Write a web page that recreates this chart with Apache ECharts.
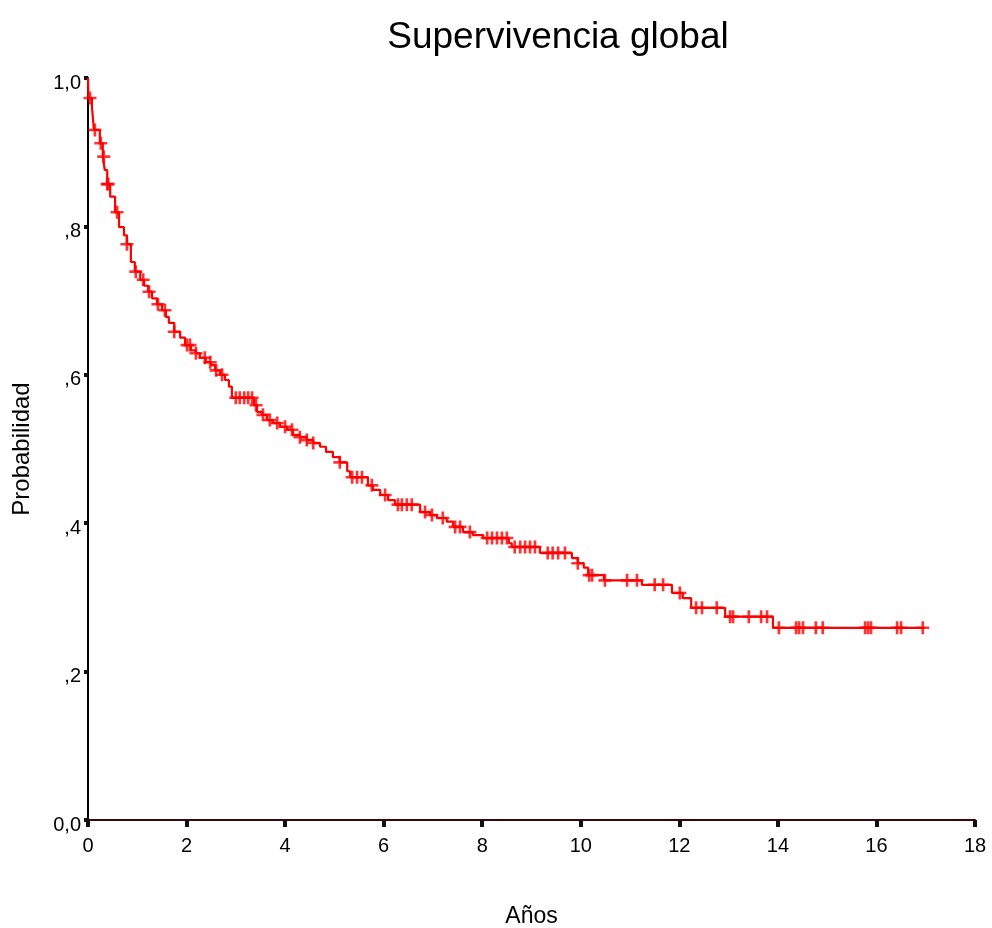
<!DOCTYPE html>
<html>
<head>
<meta charset="utf-8">
<script src="https://cdn.jsdelivr.net/npm/echarts@6/dist/echarts.min.js"></script>
<style>html,body{margin:0;padding:0;background:#fff}#c{width:992px;height:928px}</style>
</head>
<body>
<div id="c"></div>
<script>
// Kaplan-Meier step curve: [time (years), survival after step]
const kmSteps = [
  [0,1.0],[0.01,0.973],[0.08,0.961],[0.12,0.930],[0.24,0.912],[0.30,0.894],[0.34,0.876],
  [0.39,0.857],[0.45,0.840],[0.55,0.819],[0.63,0.799],[0.73,0.788],[0.79,0.776],[0.87,0.752],
  [0.95,0.739],[1.06,0.728],[1.14,0.720],[1.22,0.712],[1.30,0.703],[1.40,0.695],[1.50,0.687],
  [1.58,0.678],[1.64,0.670],[1.75,0.658],[1.87,0.650],[1.97,0.640],[2.09,0.633],[2.19,0.629],
  [2.27,0.623],[2.39,0.617],[2.50,0.613],[2.58,0.606],[2.68,0.600],[2.78,0.593],[2.86,0.584],
  [2.92,0.569],[3.37,0.559],[3.43,0.550],[3.53,0.546],[3.63,0.539],[3.75,0.535],[3.90,0.530],
  [4.04,0.526],[4.16,0.519],[4.30,0.516],[4.44,0.512],[4.57,0.508],[4.71,0.503],[4.83,0.496],
  [4.97,0.489],[5.11,0.482],[5.26,0.470],[5.32,0.462],[5.68,0.451],[5.78,0.445],[5.93,0.438],
  [6.09,0.431],[6.23,0.425],[6.74,0.415],[6.94,0.411],[7.08,0.407],[7.28,0.402],[7.41,0.395],
  [7.61,0.388],[7.81,0.384],[8.02,0.380],[8.54,0.373],[8.60,0.368],[9.17,0.360],[9.82,0.353],
  [9.94,0.346],[10.06,0.340],[10.15,0.330],[10.47,0.323],[11.24,0.317],[11.85,0.306],
  [12.07,0.299],[12.24,0.286],[12.93,0.274],[13.90,0.259],[16.98,0.259]
];
// Censored observation times (years)
const censorTimes = [
  0.04,0.14,0.26,0.32,0.39,0.41,0.59,0.79,0.97,1.12,1.24,1.42,1.56,1.75,2.01,2.07,2.19,2.37,
  2.48,2.60,2.72,3.00,3.08,3.17,3.25,3.33,3.41,3.55,3.69,3.84,4.00,4.14,4.30,4.44,4.57,5.11,
  5.36,5.46,5.56,5.76,6.03,6.29,6.37,6.47,6.57,6.84,6.98,7.20,7.45,7.55,7.75,8.10,8.20,8.30,
  8.40,8.50,8.66,8.77,8.87,8.97,9.07,9.33,9.43,9.54,9.68,9.94,10.17,10.23,10.49,10.94,11.14,
  11.50,11.67,12.01,12.34,12.46,12.76,13.03,13.09,13.41,13.66,13.78,14.02,14.37,14.43,14.51,
  14.77,14.91,15.77,15.83,15.89,16.42,16.50,16.94
];
const xTicks = [0,2,4,6,8,10,12,14,16,18];
const yTickLabels = {0:'0,0',0.2:',2',0.4:',4',0.6:',6',0.8:',8',1:'1,0'};

function survAt(t){
  let s = 1;
  for (const [tt, v] of kmSteps){ if (tt <= t) s = v; else break; }
  return s;
}
const censorData = censorTimes.map(t => [t, survAt(t)]);

const FONT = '"Liberation Sans", Arial, sans-serif';
const chart = echarts.init(document.getElementById('c'), null, {renderer:'canvas'});
chart.setOption({
  animation:false,
  backgroundColor:'#fff',
  title:{
    text:'Supervivencia global', left:553, top:14, textAlign:'center',
    textStyle:{fontFamily:FONT, fontSize:37, fontWeight:'normal', color:'#000'}
  },
  grid:{left:88, right:17, top:78, bottom:108, containLabel:false, outerBoundsMode:'none'},
  xAxis:{
    type:'value', min:0, max:18, interval:2,
    name:'Años', nameLocation:'middle', nameGap:85,
    nameTextStyle:{fontFamily:FONT, fontSize:23, color:'#000'},
    axisLine:{show:true, lineStyle:{color:'#3a0808', width:2}},
    axisTick:{show:true, length:7, lineStyle:{color:'#111', width:4}},
    axisLabel:{fontFamily:FONT, fontSize:20, color:'#000', margin:16,
      formatter: v => xTicks.includes(v) ? String(v) : ''},
    splitLine:{show:false}
  },
  yAxis:{
    type:'value', min:0, max:1, interval:0.2,
    name:'Probabilidad', nameLocation:'middle', nameGap:54, nameRotate:90,
    nameTextStyle:{fontFamily:FONT, fontSize:24, color:'#000'},
    axisLine:{show:true, lineStyle:{color:'#000', width:2}},
    axisTick:{show:true, length:4, lineStyle:{color:'#111', width:4}},
    axisLabel:{color:'#000', margin:7,
      formatter: v => { const k = Math.round(v*10)/10; const s = yTickLabels[k]; return s ? '{a|' + s + '}' : ''; },
      rich:{a:{fontFamily:FONT, fontSize:20, color:'#000', padding:[10,0,0,0]}}
    },
    splitLine:{show:false}
  },
  series:[
    {
      type:'line', step:'end', data:kmSteps, showSymbol:false, symbol:'none',
      lineStyle:{color:'#ff0000', width:2.2}, z:3
    },
    {
      type:'scatter', data:censorData,
      symbol:'path://M5,0h2.6v13h-2.6zM0,5.2h12.6v2.6h-12.6z', symbolSize:[13,13],
      itemStyle:{color:'#ff0000'}, z:4
    }
  ]
});
</script>
</body>
</html>
